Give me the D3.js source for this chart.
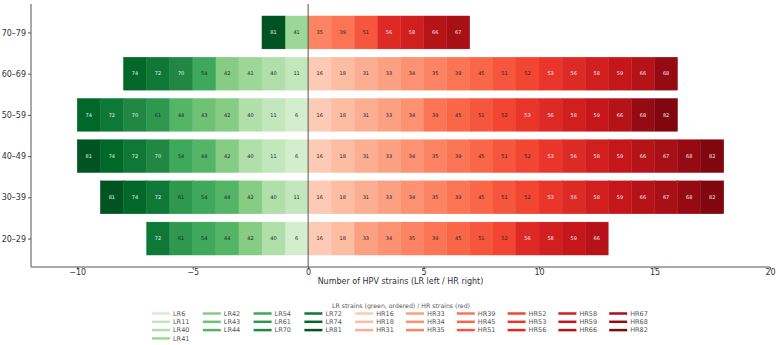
<!doctype html>
<html lang="en">
<head>
<meta charset="utf-8">
<title>HPV strains by age group</title>
<script src="https://cdnjs.cloudflare.com/ajax/libs/d3/7.8.5/d3.min.js"></script>
<style>
  body { margin: 0; background: #fff; }
  svg text { font-family: "DejaVu Sans", sans-serif; }
</style>
</head>
<body>
<svg width="782" height="345" id="svg"></svg>
<script>

// age groups, bottom to top
var ageGroups = ['20–29', '30–39', '40–49', '50–59', '60–69', '70–79'];

// strain order used for the colours
var lrStrains = [6, 11, 40, 41, 42, 43, 44, 54, 61, 70, 72, 74, 81];
var hrStrains = [16, 18, 31, 33, 34, 35, 39, 45, 51, 52, 53, 56, 58, 59, 66, 67, 68, 82];

// strains found in each age group (same order as ageGroups)
var lrByAge = [
  [6, 40, 42, 44, 54, 61, 72],
  [11, 40, 42, 44, 54, 61, 72, 74, 81],
  [6, 11, 40, 42, 44, 54, 70, 72, 74, 81],
  [6, 11, 40, 42, 43, 44, 61, 70, 72, 74],
  [11, 40, 41, 42, 54, 70, 72, 74],
  [41, 81]
];
var hrByAge = [
  [16, 18, 33, 34, 35, 39, 45, 51, 52, 56, 58, 59, 66],
  [16, 18, 31, 33, 34, 35, 39, 45, 51, 52, 53, 56, 58, 59, 66, 67, 68, 82],
  [16, 18, 31, 33, 34, 35, 39, 45, 51, 52, 53, 56, 58, 59, 66, 67, 68, 82],
  [16, 18, 31, 33, 34, 39, 45, 51, 52, 53, 56, 58, 59, 66, 68, 82],
  [16, 18, 31, 33, 34, 35, 39, 45, 51, 52, 53, 56, 58, 59, 66, 68],
  [35, 39, 51, 56, 58, 66, 67]
];

var xTicks = [-10, -5, 0, 5, 10, 15, 20];

// colormaps (matplotlib Greens / Reds stops)
var greens = ['#f7fcf5','#e5f5e0','#c7e9c0','#a1d99b','#74c476','#41ab5d','#238b45','#006d2c','#00441b'];
var reds = ['#fff5f0','#fee0d2','#fcbba1','#fc9272','#fb6a4a','#ef3b2c','#cb181d','#a50f15','#67000d'];
var stops = d3.range(9).map(function(i) { return i / 8; });
var greenMap = d3.scaleLinear().domain(stops).range(greens).interpolate(d3.interpolateRgb);
var redMap = d3.scaleLinear().domain(stops).range(reds).interpolate(d3.interpolateRgb);

function lrColor(s) {
  return greenMap(0.2 + 0.75 * lrStrains.indexOf(s) / (lrStrains.length - 1));
}
function hrColor(s) {
  return redMap(0.2 + 0.75 * hrStrains.indexOf(s) / (hrStrains.length - 1));
}
function textColor(c) {
  var r = d3.rgb(c);
  function lin(v) { v /= 255; return v <= 0.03928 ? v / 12.92 : Math.pow((v + 0.055) / 1.055, 2.4); }
  var L = 0.2126 * lin(r.r) + 0.7152 * lin(r.g) + 0.0722 * lin(r.b);
  return L < 0.234 ? '#eeeeee' : '#222222';
}

var svg = d3.select('#svg');

var padL = 31, padR = 770, padT = 4, padB = 267;

var x = d3.scaleLinear().domain([-12, 20]).range([padL, padR]);
var y = d3.scaleLinear().domain([-0.69, 5.69]).range([padB, padT]);
var bh = y(0) - y(0.8);

// segments
var segs = [];
ageGroups.forEach(function(g, i) {
  lrByAge[i].forEach(function(s, j) {
    segs.push({row: i, x0: -(j + 1), x1: -j, label: s, color: lrColor(s)});
  });
  hrByAge[i].forEach(function(s, j) {
    segs.push({row: i, x0: j, x1: j + 1, label: s, color: hrColor(s)});
  });
});

var seg = svg.append('g').selectAll('g')
  .data(segs)
  .enter()
  .append('g');

seg.append('rect')
  .attr('x', function(d) { return x(d.x0); })
  .attr('width', function(d) { return x(d.x1) - x(d.x0); })
  .attr('y', function(d) { return y(d.row) - bh / 2; })
  .attr('height', bh)
  .attr('fill', function(d) { return d.color; })
  .attr('stroke', function(d) { return d.color; })
  .attr('stroke-width', 0.3);

seg.append('text')
  .attr('x', function(d) { return x((d.x0 + d.x1) / 2); })
  .attr('y', function(d) { return y(d.row); })
  .attr('dy', '0.35em')
  .attr('text-anchor', 'middle')
  .attr('font-size', 5)
  .attr('fill', function(d) { return textColor(d.color); })
  .text(function(d) { return d.label; });

// zero line
svg.append('line')
  .attr('x1', x(0)).attr('x2', x(0))
  .attr('y1', padT).attr('y2', padB)
  .attr('stroke', '#555')
  .attr('stroke-width', 1);

// axes
var xAxis = d3.axisBottom(x)
  .tickValues(xTicks)
  .tickSize(2.5)
  .tickPadding(0)
  .tickFormat(function(d) { return d < 0 ? '\u2212' + Math.abs(d) : d; });

var gx = svg.append('g')
  .attr('transform', 'translate(0,' + padB + ')')
  .call(xAxis);
gx.select('.domain').attr('d', 'M' + padL + ',0H' + padR);

var yAxis = d3.axisLeft(y)
  .tickValues(d3.range(ageGroups.length))
  .tickSize(3)
  .tickPadding(2)
  .tickFormat(function(d) { return ageGroups[d]; });

var gy = svg.append('g')
  .attr('transform', 'translate(' + padL + ',0)')
  .call(yAxis);
gy.select('.domain').attr('d', 'M0,' + padT + 'V' + padB);

svg.selectAll('.domain').attr('stroke', '#555').attr('stroke-width', 1);
svg.selectAll('.tick line').attr('stroke', '#555');
svg.selectAll('.tick text')
  .attr('font-family', '"DejaVu Sans", sans-serif')
  .attr('font-size', 8)
  .attr('fill', '#333');

svg.append('text')
  .attr('x', (padL + padR) / 2)
  .attr('y', 284)
  .attr('text-anchor', 'middle')
  .attr('font-size', 8)
  .attr('fill', '#333')
  .text('Number of HPV strains (LR left / HR right)');

// legend
var items = lrStrains.map(function(s) { return {name: 'LR' + s, color: lrColor(s)}; })
  .concat(hrStrains.map(function(s) { return {name: 'HR' + s, color: hrColor(s)}; }));

var ncol = 10;
var nrowMax = Math.ceil(items.length / ncol);
var extra = items.length % ncol;
var k = 0;
for (var c = 0; c < ncol; c++) {
  var n = c < extra ? nrowMax : nrowMax - 1;
  items.slice(k, k + n).forEach(function(d, r) { d.col = c; d.row = r; });
  k += n;
}

var legend = svg.append('g');

legend.append('text')
  .attr('x', 401)
  .attr('y', 308)
  .attr('text-anchor', 'middle')
  .attr('font-size', 6.2)
  .attr('fill', '#555')
  .text('LR strains (green, ordered) / HR strains (red)');

var li = legend.selectAll('g.item')
  .data(items)
  .enter()
  .append('g')
  .attr('class', 'item')
  .attr('transform', function(d) {
    return 'translate(' + (152 + d.col * 50.8) + ',' + (313.5 + d.row * 8.3) + ')';
  });

li.append('line')
  .attr('x1', 0).attr('x2', 18)
  .attr('y1', 0).attr('y2', 0)
  .attr('stroke', function(d) { return d.color; })
  .attr('stroke-width', 2.5);

li.append('text')
  .attr('x', 21)
  .attr('y', 0)
  .attr('dy', '0.35em')
  .attr('font-size', 6.5)
  .attr('fill', '#555')
  .text(function(d) { return d.name; });

</script>
</body>
</html>
